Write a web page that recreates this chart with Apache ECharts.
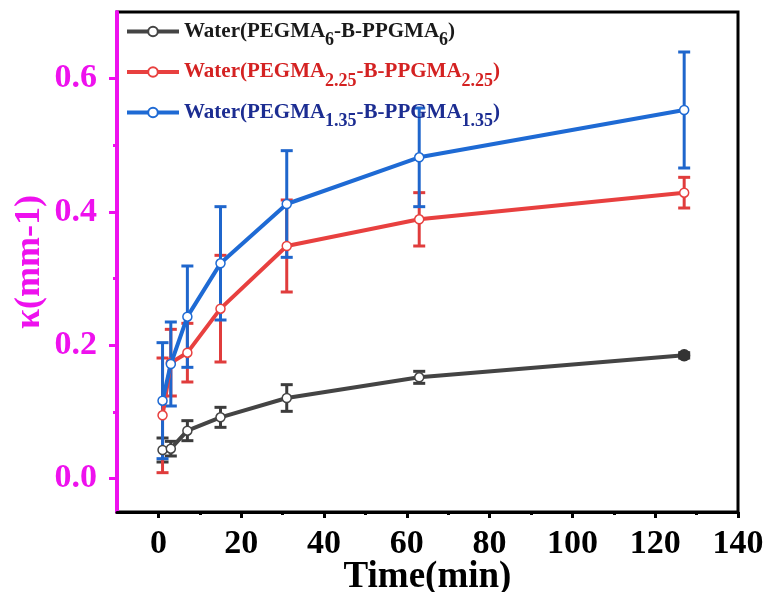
<!DOCTYPE html>
<html>
<head>
<meta charset="utf-8">
<script src="https://cdn.jsdelivr.net/npm/echarts@6/dist/echarts.min.js"></script>
<style>
html,body{margin:0;padding:0;background:#fff;}
#main{width:769px;height:592px;}
</style>
</head>
<body>
<div id="main"></div>
<script>
// time points (min)
var times = [1, 3, 7, 15, 31, 63, 127];

// kappa values and error half-widths
var black = [0.043, 0.045, 0.072, 0.092, 0.121, 0.152, 0.185];
var blackErr = [0.018, 0.011, 0.015, 0.015, 0.02, 0.009, 0.004];
var red = [0.095, 0.174, 0.189, 0.255, 0.349, 0.389, 0.429];
var redErr = [0.086, 0.05, 0.044, 0.08, 0.069, 0.04, 0.023];
var blue = [0.117, 0.172, 0.243, 0.323, 0.412, 0.482, 0.553];
var blueErr = [0.087, 0.063, 0.076, 0.085, 0.08, 0.074, 0.087];

var names = ['Water(PEGMA6-B-PPGMA6)', 'Water(PEGMA2.25-B-PPGMA2.25)', 'Water(PEGMA1.35-B-PPGMA1.35)'];
var xTicks = [0, 20, 40, 60, 80, 100, 120, 140];
var xMinor = [10, 30, 50, 70, 90, 110, 130];
var yTicks = [0, 0.2, 0.4, 0.6];
var yMinor = [0.1, 0.3, 0.5];

var font = "'Liberation Serif', 'Times New Roman', serif";
var magenta = '#ee11ee';
var cBlack = '#444444', cRed = '#e8403f', cBlue = '#1e6ad4';

function pts(v) {
	return times.map(function(t, i) { return [t, v[i]]; });
}
function errs(v, e) {
	return times.map(function(t, i) { return [t, v[i] - e[i], v[i] + e[i]]; });
}

function errSeries(v, e, color) {
	return {
		type: 'custom',
		data: errs(v, e),
		encode: {x: 0, y: [1, 2]},
		z: 3,
		silent: true,
		renderItem: function(params, api) {
			var x = api.value(0);
			var top = api.coord([x, api.value(2)]);
			var bot = api.coord([x, api.value(1)]);
			var w = 6;
			var st = {stroke: color, lineWidth: 3};
			return {
				type: 'group',
				children: [
					{type: 'line', shape: {x1: top[0], y1: top[1], x2: bot[0], y2: bot[1]}, style: st},
					{type: 'line', shape: {x1: top[0] - w, y1: top[1], x2: top[0] + w, y2: top[1]}, style: st},
					{type: 'line', shape: {x1: bot[0] - w, y1: bot[1], x2: bot[0] + w, y2: bot[1]}, style: st}
				]
			};
		}
	};
}

function lineSeries(name, data, color, z) {
	return {
		name: name,
		type: 'line',
		data: data,
		z: z,
		symbol: 'circle',
		symbolSize: 9,
		lineStyle: {color: color, width: 4},
		itemStyle: {color: '#fff', borderColor: color, borderWidth: 1.5}
	};
}

var blackData = pts(black);
blackData[blackData.length - 1] = {
	value: blackData[blackData.length - 1],
	symbolSize: 11,
	itemStyle: {color: '#333', borderColor: '#333'}
};

function rich(c) {
	return {
		fontFamily: font, fontWeight: 'bold', fontSize: 21, color: c
	};
}
function richSub(c) {
	return {
		fontFamily: font, fontWeight: 'bold', fontSize: 18, color: c, padding: [18, 0, 0, 0]
	};
}

var option = {
	backgroundColor: '#fff',
	animation: false,
	grid: {left: 117, right: 31, top: 12, bottom: 80, show: true, borderColor: '#000', borderWidth: 3,
		outerBoundsMode: 'none'},
	legend: {
		left: 120, top: 16, orient: 'vertical',
		itemWidth: 52, itemHeight: 12, itemGap: 12,
		data: names,
		lineStyle: {width: 4},
		formatter: function(name) {
			if (name === names[0]) return '{k|Water(PEGMA}{ks|6}{k|-B-PPGMA}{ks|6}{k|)}';
			if (name === names[1]) return '{r|Water(PEGMA}{rs|2.25}{r|-B-PPGMA}{rs|2.25}{r|)}';
			return '{b|Water(PEGMA}{bs|1.35}{b|-B-PPGMA}{bs|1.35}{b|)}';
		},
		textStyle: {
			rich: {
				k: rich('#1a1a1a'), ks: richSub('#1a1a1a'),
				r: rich('#d42222'), rs: richSub('#d42222'),
				b: rich('#1c2d92'), bs: richSub('#1c2d92')
			}
		}
	},
	xAxis: [{
		type: 'value', min: -10, max: 140,
		name: 'Time(min)', nameLocation: 'middle', nameGap: 47, nameMoveOverlap: false,
		nameTextStyle: {fontFamily: font, fontWeight: 'bold', fontSize: 37, color: '#000'},
		axisLine: {onZero: false, lineStyle: {color: '#000', width: 3}},
		axisTick: {customValues: xTicks, length: 6, lineStyle: {color: '#000', width: 3}},
		axisLabel: {customValues: xTicks, fontFamily: font, fontWeight: 'bold', fontSize: 34, color: '#000', margin: 15},
		splitLine: {show: false}
	}, {
		type: 'value', min: -10, max: 140, position: 'bottom',
		axisLine: {show: false, onZero: false},
		axisTick: {customValues: xMinor, length: 3, lineStyle: {color: '#000', width: 3}},
		axisLabel: {show: false},
		splitLine: {show: false}
	}],
	yAxis: [{
		type: 'value', min: -0.05, max: 0.7,
		name: 'κ(mm-1)', nameLocation: 'middle', nameGap: 69, nameMoveOverlap: false,
		nameTextStyle: {fontFamily: font, fontWeight: 'bold', fontSize: 36, color: magenta},
		axisLine: {show: true, onZero: false, lineStyle: {color: magenta, width: 4}},
		axisTick: {show: true, customValues: yTicks, length: 8, lineStyle: {color: magenta, width: 3}},
		axisLabel: {customValues: yTicks, fontFamily: font, fontWeight: 'bold', fontSize: 34, color: magenta, margin: 20,
			formatter: function(v) { return v.toFixed(1); }},
		splitLine: {show: false}
	}, {
		type: 'value', min: -0.05, max: 0.7, position: 'left',
		axisLine: {show: false, onZero: false},
		axisTick: {show: true, customValues: yMinor, length: 4, lineStyle: {color: magenta, width: 3}},
		axisLabel: {show: false},
		splitLine: {show: false}
	}],
	series: [
		errSeries(black, blackErr, '#3c3c3c'),
		lineSeries(names[0], blackData, cBlack, 4),
		errSeries(red, redErr, '#e03c3c'),
		lineSeries(names[1], pts(red), cRed, 5),
		errSeries(blue, blueErr, '#1f66cc'),
		lineSeries(names[2], pts(blue), cBlue, 6)
	]
};

echarts.init(document.getElementById('main')).setOption(option);
</script>
</body>
</html>
